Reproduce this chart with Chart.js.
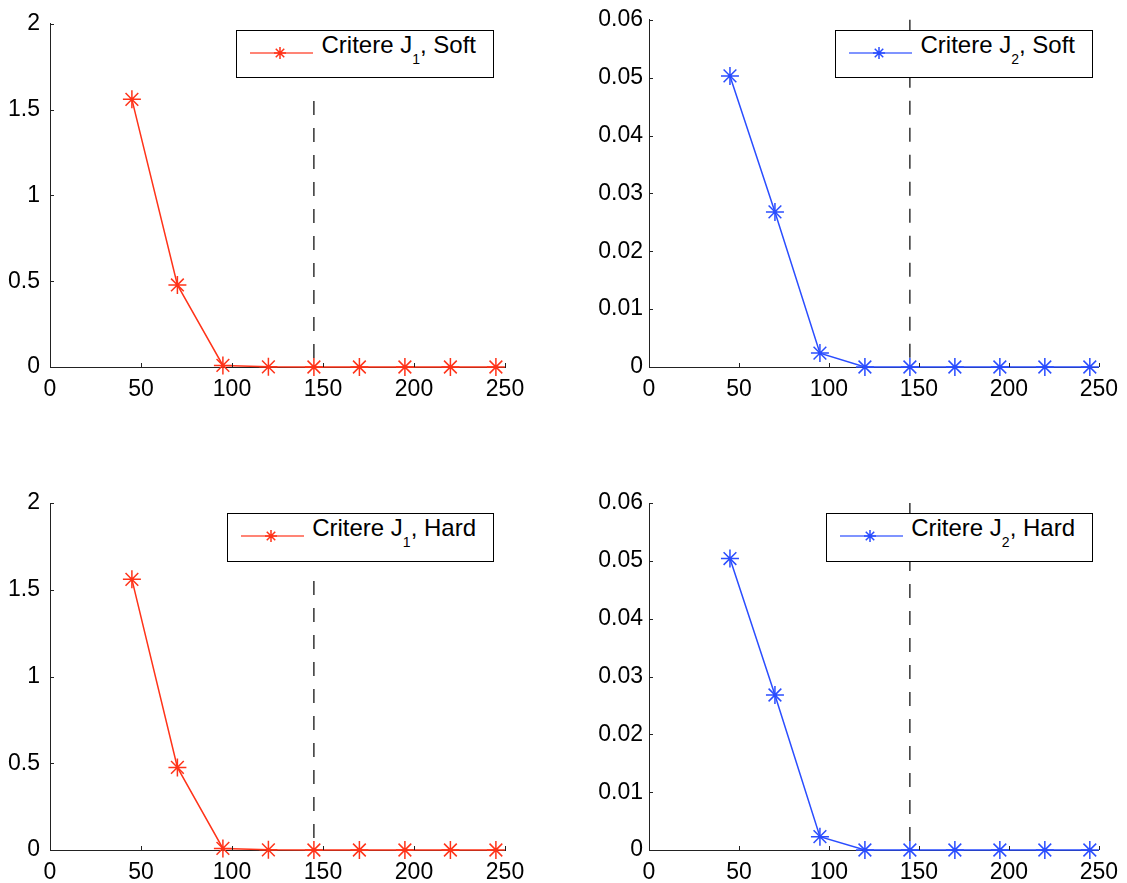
<!DOCTYPE html>
<html>
<head>
<meta charset="utf-8">
<script src="https://cdn.jsdelivr.net/npm/chart.js@4.4.1/dist/chart.umd.min.js"></script>
<style>
    html, body { margin: 0; padding: 0; background: #fff; }
    #wrap { position: relative; width: 1127px; height: 883px; overflow: hidden; }
    #wrap canvas { position: absolute; }
    .legend {
        position: absolute; box-sizing: border-box; height: 48px;
        background: #fff; border: 1.5px solid #000;
        padding: 2px 17px 0 84px; white-space: nowrap;
        font-family: 'Liberation Sans', Arial, Helvetica, sans-serif;
        font-size: 24px; line-height: 24px; color: #000;
    }
    .legend sub { font-size: 14px; line-height: 0; vertical-align: -11px; }
    .legend svg { position: absolute; left: 13px; top: 12px; }
</style>
</head>
<body>
<div id="wrap">
    <canvas id="chartJ1Soft" width="560" height="441" style="left:0;top:0"></canvas>
    <canvas id="chartJ2Soft" width="567" height="441" style="left:560px;top:0"></canvas>
    <canvas id="chartJ1Hard" width="560" height="442" style="left:0;top:441px"></canvas>
    <canvas id="chartJ2Hard" width="567" height="442" style="left:560px;top:441px"></canvas>

    <div class="legend" style="right:633px;top:30px">
        <svg width="64" height="20"></svg>Critere J<sub>1</sub>, Soft
    </div>
    <div class="legend" style="right:34px;top:30px">
        <svg width="64" height="20"></svg>Critere J<sub>2</sub>, Soft
    </div>
    <div class="legend" style="right:633px;top:513px;height:49px">
        <svg width="64" height="20"></svg>Critere J<sub>1</sub>, Hard
    </div>
    <div class="legend" style="right:34px;top:513px;height:49px">
        <svg width="64" height="20"></svg>Critere J<sub>2</sub>, Hard
    </div>
</div>
<script>
// --- DATA ---
const sampleSizes = [45, 70, 95, 120, 145, 170, 195, 220, 245];
const j1Soft = [1.56, 0.478, 0.009, 0.001, 0, 0, 0, 0, 0];
const j2Soft = [0.0503, 0.0268, 0.0024, 0, 0, 0, 0, 0, 0];
const j1Hard = [1.56, 0.476, 0.009, 0.001, 0, 0, 0, 0, 0];
const j2Hard = [0.0504, 0.0268, 0.0023, 0, 0, 0, 0, 0, 0];

const cutoffX = 145;
const cutoffTopJ1 = 1.55;
const cutoffTopJ2 = 0.06;

const xMax = 250, xStep = 50;
const j1Max = 2, j1Step = 0.5;
const j2Max = 0.06, j2Step = 0.01;

const RED = '#ff3319';
const BLUE = '#2a4dff';
const AXIS = '#222';

Chart.defaults.font.family = "'Liberation Sans', Arial, Helvetica, sans-serif";
Chart.defaults.font.size = 23;
Chart.defaults.color = '#000';

// --- HELPERS ---
// matlab style ticks pointing into the plot
const inwardTicks = {
    id: 'inwardTicks',
    afterDraw(chart) {
        const { ctx, chartArea, scales: { x, y } } = chart;
        ctx.save();
        ctx.strokeStyle = AXIS;
        ctx.lineWidth = 1;
        ctx.beginPath();
        x.ticks.forEach(t => {
            const px = Math.round(x.getPixelForValue(t.value)) + 0.5;
            ctx.moveTo(px, chartArea.bottom);
            ctx.lineTo(px, chartArea.bottom - 4);
        });
        y.ticks.forEach(t => {
            const py = Math.round(y.getPixelForValue(t.value)) + 0.5;
            ctx.moveTo(chartArea.left, py);
            ctx.lineTo(chartArea.left + 4, py);
        });
        ctx.stroke();
        ctx.restore();
    }
};

function formatJ1(v) { return String(+v.toFixed(2)); }
function formatJ2(v) { return Math.abs(v) < 1e-9 ? '0' : v.toFixed(2); }

function makeChart(id, values, color, yMax, yStep, cutTop, fmt, box) {
    const points = sampleSizes.map((x, i) => ({ x, y: values[i] }));
    return new Chart(document.getElementById(id), {
        type: 'line',
        data: {
            datasets: [{
                data: points,
                borderColor: color,
                borderWidth: 1.5,
                pointStyle: 'star',
                pointRadius: 9,
                pointHoverRadius: 9,
                pointBorderColor: color,
                pointBorderWidth: 1.5,
                tension: 0,
                clip: false,
                order: 0
            }, {
                // drawn top-down so the dash pattern starts at the top end
                data: [{ x: cutoffX, y: cutTop }, { x: cutoffX, y: 0 }],
                borderColor: '#000',
                borderWidth: 1.2,
                borderDash: [14, 13],
                pointRadius: 0,
                clip: false,
                order: 1
            }]
        },
        options: {
            responsive: false,
            animation: false,
            events: [],
            layout: { padding: { top: box.padTop, right: box.padRight, left: 0, bottom: 0 } },
            plugins: { legend: { display: false }, tooltip: { enabled: false } },
            scales: {
                x: {
                    type: 'linear', min: 0, max: xMax,
                    grid: { display: false, drawTicks: false },
                    border: { display: true, color: AXIS, width: 1 },
                    ticks: { stepSize: xStep, padding: 9, maxRotation: 0, autoSkip: false },
                    afterFit(scale) { scale.height = box.xHeight; }
                },
                y: {
                    type: 'linear', min: 0, max: yMax,
                    grid: { display: false, drawTicks: false },
                    border: { display: true, color: AXIS, width: 1 },
                    ticks: { stepSize: yStep, padding: box.yPad, callback: fmt },
                    afterFit(scale) { scale.width = box.yWidth; }
                }
            }
        },
        plugins: [inwardTicks]
    });
}

// legend sample: line with a star marker
function drawLegendSamples() {
    const colors = [RED, BLUE, RED, BLUE];
    document.querySelectorAll('.legend svg').forEach((svg, i) => {
        const c = colors[i], cx = 30, cy = 10, r = 6, d = r * 0.7071;
        svg.innerHTML =
            `<line x1="0" y1="${cy}" x2="63" y2="${cy}" stroke="${c}" stroke-opacity="0.8" stroke-width="1.5"/>` +
            `<path d="M${cx - r} ${cy}H${cx + r}M${cx} ${cy - r}V${cy + r}` +
            `M${cx - d} ${cy - d}L${cx + d} ${cy + d}M${cx - d} ${cy + d}L${cx + d} ${cy - d}" ` +
            `stroke="${c}" stroke-width="1.5" fill="none"/>`;
    });
}

// --- CHARTS ---
const leftTop = { padTop: 18, padRight: 55, yWidth: 50, yPad: 10, xHeight: 74 };
const rightTop = { padTop: 18, padRight: 22, yWidth: 89, yPad: 6, xHeight: 74 };
const leftBottom = { padTop: 62, padRight: 55, yWidth: 50, yPad: 10, xHeight: 33 };
const rightBottom = { padTop: 62, padRight: 22, yWidth: 89, yPad: 6, xHeight: 33 };

makeChart('chartJ1Soft', j1Soft, RED, j1Max, j1Step, cutoffTopJ1, formatJ1, leftTop);
makeChart('chartJ2Soft', j2Soft, BLUE, j2Max, j2Step, cutoffTopJ2, formatJ2, rightTop);
makeChart('chartJ1Hard', j1Hard, RED, j1Max, j1Step, cutoffTopJ1, formatJ1, leftBottom);
makeChart('chartJ2Hard', j2Hard, BLUE, j2Max, j2Step, cutoffTopJ2, formatJ2, rightBottom);
drawLegendSamples();
</script>
</body>
</html>
